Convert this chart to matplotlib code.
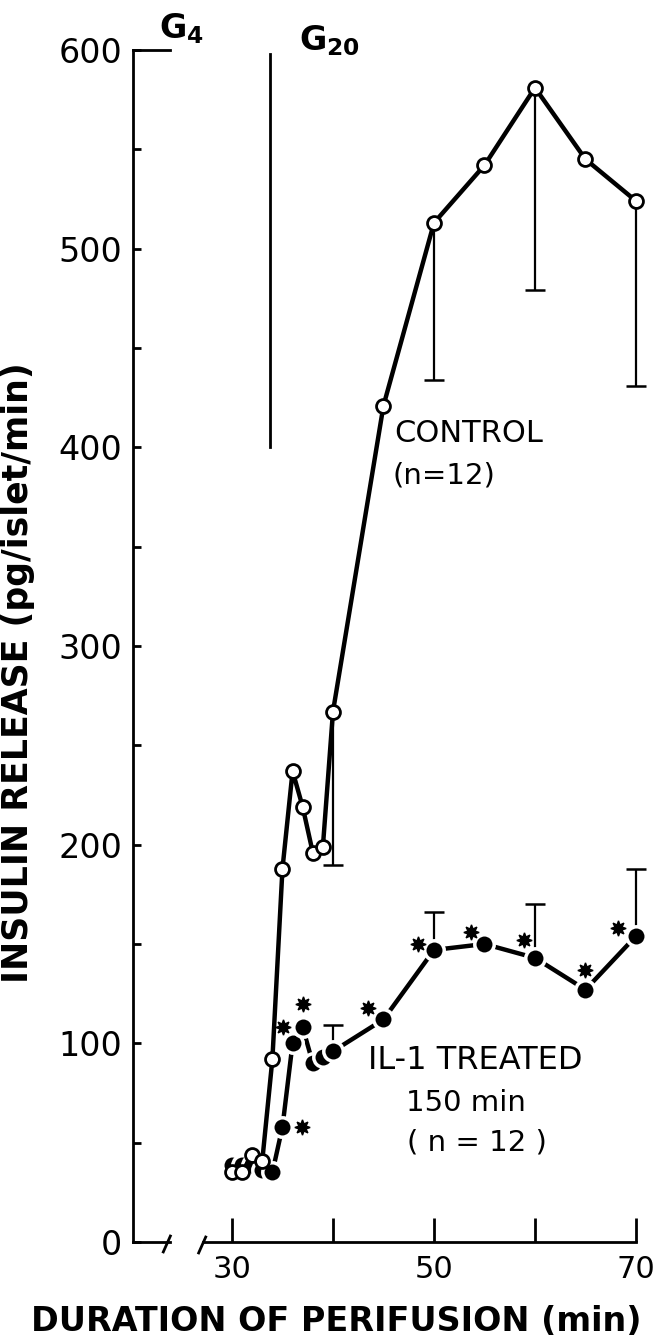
import numpy as np
import matplotlib
matplotlib.use("Agg")
import matplotlib.pyplot as plt

# perifusion time (min) and insulin release (pg/islet/min)
time_min = [30, 31, 32, 33, 34, 35, 36, 37, 38, 39, 40, 45, 50, 55, 60, 65, 70]
control = [35, 35, 44, 41, 92, 188, 237, 219, 196, 199, 267, 421, 513, 542, 581, 545, 524]
il1_treated = [39, 39, 39, 36, 35, 58, 100, 108, 90, 93, 96, 112, 147, 150, 143, 127, 154]

# SEM bars: control drawn downward, IL-1 drawn upward
control_err_t = [40, 50, 60, 70]
control_err = [77, 79, 102, 93]
il1_err_t = [40, 50, 60, 70]
il1_err = [13, 19, 27, 34]

# significance asterisks next to IL-1 points
star_t = [36.9, 35.1, 37.0, 43.5, 48.4, 53.7, 58.9, 65.0, 68.2]
star_y = [58, 108, 120, 118, 150, 156, 152, 137, 158]

g20_start = 33.8


def one_sided_bars(ax, t, mean, err, sign):
    """stem from the mean with a cap at the far end only"""
    ends = [m + sign * e for m, e in zip(mean, err)]
    ax.vlines(t, mean, ends, color="black", lw=1.6, zorder=2, clip_on=False)
    ax.plot(t, ends, ls="none", marker="_", ms=14, mew=1.8, color="black",
            zorder=2, clip_on=False)


fig = plt.figure(figsize=(6.54, 13.43), dpi=100)
ax = fig.add_axes([133 / 654, 1 - 1242 / 1343, 503 / 654, 1192 / 1343])

# control curve
ci = [time_min.index(t) for t in control_err_t]
one_sided_bars(ax, control_err_t, [control[i] for i in ci], control_err, -1)
ax.plot(time_min, control, color="black", lw=3.2, marker="o", ms=10,
        mfc="white", mec="black", mew=2.0, zorder=4, clip_on=False)

# IL-1 treated curve
ii = [time_min.index(t) for t in il1_err_t]
one_sided_bars(ax, il1_err_t, [il1_treated[i] for i in ii], il1_err, 1)
ax.plot(time_min, il1_treated, color="black", lw=3.2, marker="o", ms=14,
        mfc="black", mec="white", mew=2.5, zorder=3, clip_on=False)
ax.plot(star_t, star_y, ls="none", marker=(8, 1, 0), ms=11, color="black",
        zorder=3, clip_on=False)

ax.set_xlim(20.2, 70)
ax.set_ylim(0, 600)

for s in ["top", "right", "bottom"]:
    ax.spines[s].set_visible(False)
ax.spines["left"].set_linewidth(2)

# broken x axis drawn by hand
kw = dict(color="black", lw=2, clip_on=False, zorder=5)
ax.plot([20.2, 23.9], [0, 0], **kw)
ax.plot([23.2, 23.9], [-5, 3], **kw)
ax.plot([27.1, 70], [0, 0], **kw)
ax.plot([26.7, 27.4], [-5.5, 2.5], **kw)

# glucose steps: G4 bracket and G20 marker line
ax.plot([20.2, 23.9], [600, 600], **kw)
ax.plot([g20_start, g20_start], [400, 598], color="black", lw=2, zorder=1)
ax.text(25.0, 602, r"$\mathbf{G_4}$", fontsize=24, ha="center", va="bottom")
ax.text(39.7, 596, r"$\mathbf{G_{20}}$", fontsize=24, ha="center", va="bottom")

ax.set_xticks([30, 40, 50, 60, 70])
ax.set_xticklabels(["30", "", "50", "", "70"])
ax.set_yticks(np.arange(0, 601, 100))
ax.set_yticks(np.arange(50, 600, 100), minor=True)
ax.tick_params(axis="x", direction="in", length=17, width=2, labelsize=22, pad=9)
ax.tick_params(axis="y", which="both", direction="in", length=6, width=2,
               labelsize=24, pad=8)

ax.set_ylabel("INSULIN RELEASE (pg/islet/min)", fontsize=25, fontweight="bold")
ax.yaxis.set_label_coords(-0.195, 0.478)
ax.set_xlabel("DURATION OF PERIFUSION (min)", fontsize=24, fontweight="bold")
ax.xaxis.set_label_coords(0.404, -0.053)

ax.text(46.1, 407, "CONTROL", fontsize=22, ha="left", va="center")
ax.text(51.0, 386, "(n=12)", fontsize=21, ha="center", va="center")
ax.text(43.5, 91.5, "IL-1 TREATED", fontsize=23, ha="left", va="center")
ax.text(53.2, 70, "150 min", fontsize=21, ha="center", va="center")
ax.text(54.3, 50, "( n = 12 )", fontsize=21, ha="center", va="center")

fig.savefig("out.png", dpi=100)
